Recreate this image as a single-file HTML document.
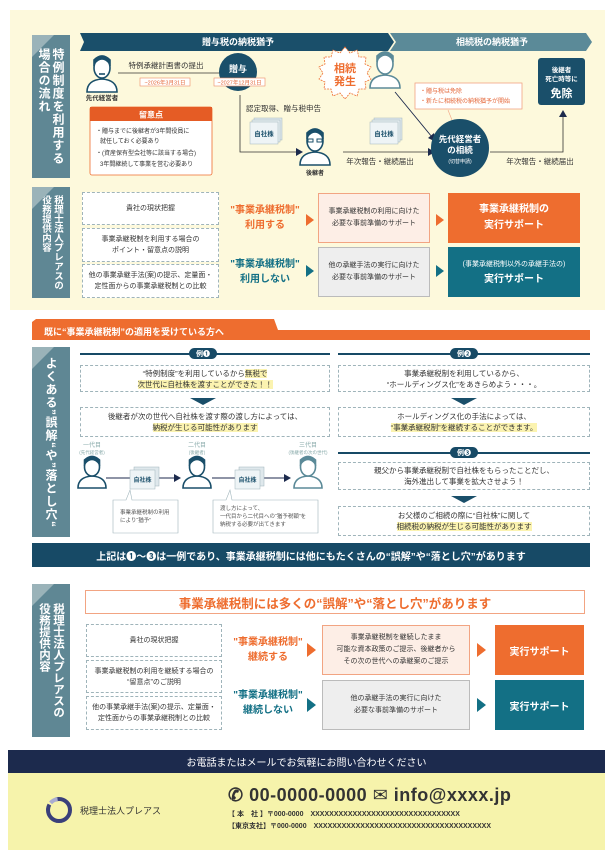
<!DOCTYPE html>
<html><head><meta charset="utf-8">
<style>
*{margin:0;padding:0;box-sizing:border-box}
body{width:613px;height:860px;background:#fff;position:relative;overflow:hidden;font-family:"Liberation Sans","Noto Sans CJK JP",sans-serif;color:#333}
.a{position:absolute}
.c{display:flex;align-items:center;justify-content:center;text-align:center;flex-direction:column}
.side{background:#5f8794;color:#fff;font-weight:bold;font-size:12px;writing-mode:vertical-rl;display:flex;align-items:center;justify-content:center;line-height:14px;letter-spacing:1px;overflow:hidden}
.side:before{content:"";position:absolute;left:0;top:0;border-top:22px solid #9ab3b9;border-right:22px solid transparent}
.side.s{font-size:9.5px;letter-spacing:0;line-height:12px}
.db{background:#fff;border:1px dashed #9fb4ba;font-size:7px;line-height:11px;color:#333}
.b{font-weight:bold}
.pill{background:#174a66;color:#fff;font-size:7px;font-weight:bold;border-radius:7px;width:28px;height:11px}
.hl{background:#fbf3b0}
</style></head><body>
<div class="a" style="left:10px;top:10px;width:595px;height:300px;background:#fdf9dc"></div>
<div class="a side" style="left:32px;top:35px;width:38px;height:143px">特例制度を利用する<br>場合の流れ</div>
<svg class="a" style="left:0;top:0" width="613" height="310">
<polygon points="80,33 388,33 394,42 388,51 80,51 84,42" fill="#1a4f6a"/>
<polygon points="390,33 586,33 592,42 586,51 390,51 396,42" fill="#5b8a98"/>
<text x="238" y="45" fill="#fff" font-size="9" font-weight="bold" text-anchor="middle">贈与税の納税猶予</text>
<text x="492" y="45" fill="#fff" font-size="9" font-weight="bold" text-anchor="middle">相続税の納税猶予</text>
<line x1="118" y1="73" x2="222" y2="73" stroke="#333" stroke-width="0.8"/>
<text x="166" y="68" font-size="7.5" text-anchor="middle" fill="#333">特例承継計画書の提出</text>
<rect x="140" y="78" width="50" height="8" fill="#fff" stroke="#ee8d64" stroke-width="0.6"/>
<text x="165" y="84.5" font-size="5.5" text-anchor="middle" fill="#e5683a">~2026年3月31日</text>
<circle cx="238" cy="72" r="19" fill="#1a4f6a"/>
<text x="238" y="72" font-size="9" font-weight="bold" fill="#fff" text-anchor="middle">贈与</text>
<rect x="214" y="78" width="51" height="8" fill="#fff" stroke="#ee8d64" stroke-width="0.6"/>
<text x="239.5" y="84.5" font-size="5.5" text-anchor="middle" fill="#e5683a">~2027年12月31日</text>
<polyline points="240,95 240,152 296,152" fill="none" stroke="#333" stroke-width="0.8"/>
<polygon points="296,148 303,152 296,156" fill="#1c2a4d"/>
<text x="246" y="111" font-size="7.5" fill="#333">認定取得、贈与税申告</text>
<g transform="translate(250,118)"><rect x="4" y="0" width="28" height="22" fill="#dfe8ec" stroke="#9fb4ba" stroke-width="0.5"/><rect x="2" y="2" width="28" height="22" fill="#e6eef1" stroke="#9fb4ba" stroke-width="0.5"/><rect x="0" y="4" width="28" height="22" fill="#eef4f6" stroke="#9fb4ba" stroke-width="0.5"/><text x="14" y="18" font-size="6.5" font-weight="bold" text-anchor="middle" fill="#1a4f6a">自社株</text></g>
<g transform="translate(370,118)"><rect x="4" y="0" width="28" height="22" fill="#dfe8ec" stroke="#9fb4ba" stroke-width="0.5"/><rect x="2" y="2" width="28" height="22" fill="#e6eef1" stroke="#9fb4ba" stroke-width="0.5"/><rect x="0" y="4" width="28" height="22" fill="#eef4f6" stroke="#9fb4ba" stroke-width="0.5"/><text x="14" y="18" font-size="6.5" font-weight="bold" text-anchor="middle" fill="#1a4f6a">自社株</text></g>
<g transform="translate(102,60)" stroke="#1a4f6a" stroke-width="1.6" fill="#fff"><path d="M-15,32 Q-15,20 0,19 Q15,20 15,32 Z"/><ellipse cx="0" cy="8" rx="8" ry="10"/><path d="M-8,4 Q0,-6 8,4 L8,0 Q0,-8 -8,0Z" fill="#1a4f6a"/><path d="M-3,14 h6" /></g>
<text x="102" y="100" font-size="6.5" font-weight="bold" text-anchor="middle" fill="#333">先代経営者</text>
<g transform="translate(315,133)" stroke="#1a4f6a" stroke-width="1.6" fill="#fff"><path d="M-15,32 Q-15,20 0,19 Q15,20 15,32 Z"/><ellipse cx="0" cy="8" rx="8" ry="10"/><path d="M-8,4 Q0,-6 8,4 L8,0 Q0,-8 -8,0Z" fill="#1a4f6a"/><rect x="-7" y="6" width="5" height="3" fill="none" stroke-width="1"/><rect x="2" y="6" width="5" height="3" fill="none" stroke-width="1"/></g>
<text x="315" y="175" font-size="6" font-weight="bold" text-anchor="middle" fill="#333">後継者</text>
<g transform="translate(385,56)" stroke="#5b8a98" stroke-width="1.6" fill="#fff"><path d="M-15,32 Q-15,20 0,19 Q15,20 15,32 Z"/><ellipse cx="0" cy="8" rx="8" ry="10"/><path d="M-8,4 Q0,-6 8,4 L8,0 Q0,-8 -8,0Z" fill="#5b8a98"/></g>
<polygon points="345,47 350,53 357,50 359,57 366,57 365,64 371,67 367,73 371,79 365,82 366,89 359,89 357,96 350,93 345,99 340,93 333,96 331,89 324,89 325,82 319,79 323,73 319,67 325,64 324,57 331,57 333,50 340,53" fill="#fff" stroke="#ee6d2f" stroke-width="0.8" stroke-dasharray="2,1"/>
<text x="345" y="72" font-size="11" font-weight="bold" fill="#ee6d2f" text-anchor="middle">相続</text>
<text x="345" y="85" font-size="11" font-weight="bold" fill="#ee6d2f" text-anchor="middle">発生</text>
<line x1="395" y1="92" x2="432" y2="137" stroke="#1c2a4d" stroke-width="0.9"/>
<polygon points="428,138 436,142 434,133" fill="#1c2a4d"/>
<rect x="415" y="83" width="107" height="26" fill="#fff" stroke="#f2a482" stroke-width="0.8"/>
<text x="420" y="93" font-size="6" fill="#e5683a">・贈与税は免除</text>
<text x="420" y="103" font-size="6" fill="#e5683a">・新たに相続税の納税猶予が開始</text>
<line x1="448" y1="110" x2="452" y2="120" stroke="#f2a482" stroke-width="0.6"/>
<polyline points="343,152 432,152" stroke="#333" stroke-width="0.8"/>
<polygon points="428,148 435,152 428,156" fill="#1c2a4d"/>
<circle cx="460" cy="148" r="29" fill="#1a4f6a"/>
<text x="460" y="142" font-size="8.5" font-weight="bold" fill="#fff" text-anchor="middle">先代経営者</text>
<text x="460" y="153" font-size="8.5" font-weight="bold" fill="#fff" text-anchor="middle">の相続</text>
<text x="460" y="163" font-size="5" fill="#fff" text-anchor="middle">(切替申請)</text>
<text x="380" y="164" font-size="7.5" fill="#333" text-anchor="middle">年次報告・継続届出</text>
<text x="540" y="164" font-size="7.5" fill="#333" text-anchor="middle">年次報告・継続届出</text>
<polyline points="490,152 563,152 563,116" fill="none" stroke="#333" stroke-width="0.8"/>
<polygon points="559,117 563,110 567,117" fill="#1c2a4d"/>
<rect x="538" y="58" width="47" height="47" rx="3" fill="#1a4f6a"/>
<text x="561.5" y="72" font-size="6.5" font-weight="bold" fill="#fff" text-anchor="middle">後継者</text>
<text x="561.5" y="81" font-size="6.5" font-weight="bold" fill="#fff" text-anchor="middle">死亡時等に</text>
<text x="561.5" y="97" font-size="11" font-weight="bold" fill="#fff" text-anchor="middle">免除</text>
<rect x="90" y="107" width="122" height="68" rx="2" fill="#fff" stroke="#ee6d2f" stroke-width="0.8"/>
<rect x="90" y="107" width="122" height="14" fill="#e55c25"/>
<text x="151" y="117.5" font-size="8" font-weight="bold" fill="#fff" text-anchor="middle">留意点</text>
<text x="96" y="133" font-size="6" fill="#333">・贈与までに後継者が3年間役員に</text>
<text x="100" y="143" font-size="6" fill="#333">就任しておく必要あり</text>
<text x="96" y="155" font-size="6" fill="#333">・(資産保有型会社等に該当する場合)</text>
<text x="100" y="166" font-size="6" fill="#333">3年間継続して事業を営む必要あり</text>
</svg>

<div class="a side s" style="left:32px;top:187px;width:38px;height:111px">税理士法人プレアスの<br>役務提供内容</div>
<div class="a db c" style="left:82px;top:192px;width:137px;height:33px">貴社の現状把握</div>
<div class="a db c" style="left:82px;top:228px;width:137px;height:34px">事業承継税制を利用する場合の<br>ポイント・留意点の説明</div>
<div class="a db c" style="left:82px;top:264px;width:137px;height:34px">他の事業承継手法(案)の提示、定量面・<br>定性面からの事業承継税制との比較</div>
<div class="a c b" style="left:222px;top:203px;width:86px;color:#ee6d2f;font-size:10px;line-height:15px">"事業承継税制"<br>利用する</div>
<div class="a c b" style="left:222px;top:257px;width:86px;color:#137085;font-size:10px;line-height:15px">"事業承継税制"<br>利用しない</div>
<svg class="a" style="left:0;top:180px" width="613" height="130">
<polygon points="306,34 314,40 306,46" fill="#ee6d2f"/><polygon points="436,34 444,40 436,46" fill="#ee6d2f"/>
<polygon points="306,85 314,91 306,97" fill="#137085"/><polygon points="436,85 444,91 436,97" fill="#137085"/>
</svg>
<div class="a c" style="left:318px;top:193px;width:112px;height:50px;background:#fdeee6;border:1px solid #f2a482;font-size:7px;line-height:12px">事業承継税制の利用に向けた<br>必要な事前準備のサポート</div>
<div class="a c b" style="left:448px;top:193px;width:132px;height:50px;background:#ee6d2f;color:#fff;font-size:10px;line-height:16px">事業承継税制の<br>実行サポート</div>
<div class="a c" style="left:318px;top:247px;width:112px;height:50px;background:#eeeeee;border:1px solid #bbb;font-size:7px;line-height:12px">他の承継手法の実行に向けた<br>必要な事前準備のサポート</div>
<div class="a c b" style="left:448px;top:247px;width:132px;height:50px;background:#137085;color:#fff;font-size:10px;line-height:15px"><span style="font-size:7px;font-weight:normal">(事業承継税制以外の承継手法の)</span>実行サポート</div>

<svg class="a" style="left:0;top:310px" width="613" height="30">
<polygon points="32,12 36,9 274,9 278,20 590,20 590,30 32,30" fill="#ee6d2f"/>
<text x="44" y="25" font-size="9" font-weight="bold" fill="#fff">既に“事業承継税制”の適用を受けている方へ</text>
</svg>
<div class="a side" style="left:32px;top:347px;width:38px;height:190px;font-size:12px">よくある”誤解“や”落とし穴“</div>
<div class="a" style="left:80px;top:353px;width:250px;height:1.5px;background:#174a66"></div>
<div class="a pill c" style="left:189px;top:348px">例❶</div>
<div class="a" style="left:338px;top:353px;width:252px;height:1.5px;background:#174a66"></div>
<div class="a pill c" style="left:450px;top:348px">例❷</div>
<div class="a" style="left:338px;top:452px;width:252px;height:1.5px;background:#174a66"></div>
<div class="a pill c" style="left:450px;top:447px">例❸</div>
<div class="a db c" style="left:80px;top:365px;width:250px;height:27px;font-size:7.5px"><div>“特例制度”を利用しているから<span class="hl">無税で</span></div><div><span class="hl">次世代に自社株を渡すことができた！！</span></div></div>
<div class="a db c" style="left:80px;top:407px;width:250px;height:30px;font-size:7.5px"><div>後継者が次の世代へ自社株を渡す際の渡し方によっては、</div><div><span class="hl">納税が生じる可能性があります</span></div></div>
<div class="a db c" style="left:338px;top:365px;width:252px;height:27px;font-size:7.5px">事業承継税制を利用しているから、<br>“ホールディングス化”をあきらめよう・・・。</div>
<div class="a db c" style="left:338px;top:407px;width:252px;height:30px;font-size:7.5px"><div>ホールディングス化の手法によっては、</div><div><span class="hl">“事業承継税制”を継続することができます。</span></div></div>
<div class="a db c" style="left:338px;top:462px;width:252px;height:28px;font-size:7.5px">親父から事業承継税制で自社株をもらったことだし、<br>海外進出して事業を拡大させよう！</div>
<div class="a db c" style="left:338px;top:506px;width:252px;height:30px;font-size:7.5px"><div>お父様のご相続の際に“自社株”に関して</div><div><span class="hl">相続税の納税が生じる可能性があります</span></div></div>
<svg class="a" style="left:0;top:390px" width="613" height="120">
<polygon points="190,8 216,8 203,15" fill="#1a4f6a"/><polygon points="451,8 477,8 464,15" fill="#1a4f6a"/><polygon points="451,106 477,106 464,113" fill="#1a4f6a"/>
</svg>
<svg class="a" style="left:70px;top:440px" width="270" height="100">
<g font-size="6" fill="#8aa" text-anchor="middle"><text x="22" y="7">一代目</text><text x="22" y="14" font-size="4.5">(先代経営者)</text><text x="127" y="7">二代目</text><text x="127" y="14" font-size="4.5">(後継者)</text><text x="238" y="7">三代目</text><text x="238" y="14" font-size="4.5">(後継者の次の世代)</text></g>
<g transform="translate(22,20)" stroke="#1a4f6a" stroke-width="1.6" fill="#fff"><path d="M-14,28 Q-14,17 0,16 Q14,17 14,28 Z"/><ellipse cx="0" cy="7" rx="7.5" ry="9"/><path d="M-7.5,4 Q0,-5 7.5,4 L7.5,0 Q0,-7 -7.5,0Z" fill="#1a4f6a"/></g>
<g transform="translate(127,20)" stroke="#1a4f6a" stroke-width="1.6" fill="#fff"><path d="M-14,28 Q-14,17 0,16 Q14,17 14,28 Z"/><ellipse cx="0" cy="7" rx="7.5" ry="9"/><path d="M-7.5,4 Q0,-5 7.5,4 L7.5,0 Q0,-7 -7.5,0Z" fill="#1a4f6a"/></g>
<g transform="translate(238,20)" stroke="#5b8a98" stroke-width="1.6" fill="#fff"><path d="M-14,28 Q-14,17 0,16 Q14,17 14,28 Z"/><ellipse cx="0" cy="7" rx="7.5" ry="9"/><path d="M-7.5,4 Q0,-5 7.5,4 L7.5,0 Q0,-7 -7.5,0Z" fill="#5b8a98"/></g>
<line x1="36" y1="38" x2="108" y2="38" stroke="#1c2a4d"/><polygon points="104,34 111,38 104,42" fill="#1c2a4d"/>
<line x1="142" y1="38" x2="218" y2="38" stroke="#1c2a4d"/><polygon points="214,34 221,38 214,42" fill="#1c2a4d"/>
<g transform="translate(60,27)"><rect x="4" y="0" width="25" height="19" fill="#dfe8ec" stroke="#9fb4ba" stroke-width="0.5"/><rect x="0" y="3" width="25" height="19" fill="#eef4f6" stroke="#9fb4ba" stroke-width="0.5"/><text x="12.5" y="15" font-size="6" font-weight="bold" text-anchor="middle" fill="#1a4f6a">自社株</text></g>
<g transform="translate(165,27)"><rect x="4" y="0" width="25" height="19" fill="#dfe8ec" stroke="#9fb4ba" stroke-width="0.5"/><rect x="0" y="3" width="25" height="19" fill="#eef4f6" stroke="#9fb4ba" stroke-width="0.5"/><text x="12.5" y="15" font-size="6" font-weight="bold" text-anchor="middle" fill="#1a4f6a">自社株</text></g>
<path d="M43,60 L56,60 L60,50 L62,60 L108,60 L108,93 L43,93 Z" fill="#fff" stroke="#9fb4ba" stroke-width="0.6"/>
<text x="50" y="74" font-size="5.5" fill="#555">事業承継税制の利用</text><text x="50" y="82" font-size="5.5" fill="#555">により“猶予”</text>
<path d="M143,60 L156,60 L160,50 L162,60 L248,60 L248,93 L143,93 Z" fill="#fff" stroke="#9fb4ba" stroke-width="0.6"/>
<text x="150" y="70" font-size="5.5" fill="#555">渡し方によって、</text><text x="150" y="78" font-size="5.5" fill="#555">一代目から二代目への“猶予税額”を</text><text x="150" y="86" font-size="5.5" fill="#555">納税する必要が出てきます</text>
</svg>
<div class="a c b" style="left:32px;top:543px;width:558px;height:24px;background:#174a66;color:#fff;font-size:10px">上記は❶～❸は一例であり、事業承継税制には他にもたくさんの“誤解”や“落とし穴”があります</div>

<div class="a side" style="left:32px;top:584px;width:38px;height:153px;font-size:11.5px;line-height:14px;letter-spacing:0">税理士法人プレアスの<br>役務提供内容</div>
<div class="a c b" style="left:85px;top:590px;width:500px;height:24px;border:1.5px solid #f2a482;color:#ee6d2f;font-size:12.5px">事業承継税制には多くの“誤解”や“落とし穴”があります</div>
<div class="a db c" style="left:86px;top:624px;width:136px;height:33px">貴社の現状把握</div>
<div class="a db c" style="left:86px;top:660px;width:136px;height:33px">事業承継税制の利用を継続する場合の<br>“留意点”のご説明</div>
<div class="a db c" style="left:86px;top:696px;width:136px;height:34px">他の事業承継手法(案)の提示、定量面・<br>定性面からの事業承継税制との比較</div>
<div class="a c b" style="left:225px;top:635px;width:86px;color:#ee6d2f;font-size:10px;line-height:15px">"事業承継税制"<br>継続する</div>
<div class="a c b" style="left:225px;top:688px;width:86px;color:#137085;font-size:10px;line-height:15px">"事業承継税制"<br>継続しない</div>
<svg class="a" style="left:0;top:620px" width="613" height="120">
<polygon points="307,23 316,30 307,37" fill="#ee6d2f"/><polygon points="477,23 486,30 477,37" fill="#ee6d2f"/>
<polygon points="307,78 316,85 307,92" fill="#137085"/><polygon points="477,78 486,85 477,92" fill="#137085"/>
</svg>
<div class="a c" style="left:322px;top:625px;width:148px;height:50px;background:#fdeee6;border:1px solid #f2a482;font-size:7px;line-height:12px">事業承継税制を継続したまま<br>可能な資本政策のご提示、後継者から<br>その次の世代への承継案のご提示</div>
<div class="a c b" style="left:495px;top:625px;width:89px;height:50px;background:#ee6d2f;color:#fff;font-size:10px">実行サポート</div>
<div class="a c" style="left:322px;top:680px;width:148px;height:50px;background:#eeeeee;border:1px solid #bbb;font-size:7px;line-height:12px">他の承継手法の実行に向けた<br>必要な事前準備のサポート</div>
<div class="a c b" style="left:495px;top:680px;width:89px;height:50px;background:#137085;color:#fff;font-size:10px">実行サポート</div>

<div class="a c" style="left:8px;top:750px;width:597px;height:23px;background:#1c2a4d;color:#fff;font-size:10px">お電話またはメールでお気軽にお問い合わせください</div>
<div class="a" style="left:8px;top:773px;width:597px;height:77px;background:#f6f3ab"></div>
<svg class="a" style="left:44px;top:795px" width="30" height="30"><circle cx="15" cy="15" r="11" fill="none" stroke="#3a3f7a" stroke-width="4" stroke-dasharray="40,8"/><circle cx="15" cy="15" r="11" fill="none" stroke="#a9acd0" stroke-width="4" stroke-dasharray="8,62" stroke-dashoffset="-42"/></svg>
<div class="a" style="left:80px;top:804px;font-size:9px;color:#333">税理士法人プレアス</div>
<div class="a b" style="left:228px;top:785px;font-size:18px;color:#333;white-space:nowrap;letter-spacing:0.5px">✆ 00-0000-0000 <span style="font-weight:normal">✉</span> info@xxxx.jp</div>
<div class="a b" style="left:228px;top:809px;font-size:7px;color:#333;white-space:nowrap;line-height:12px">【 本　社 】〒000-0000　XXXXXXXXXXXXXXXXXXXXXXXXXXXXXXXX<br>【東京支社】〒000-0000　XXXXXXXXXXXXXXXXXXXXXXXXXXXXXXXXXXXXXX</div>
</body></html>
